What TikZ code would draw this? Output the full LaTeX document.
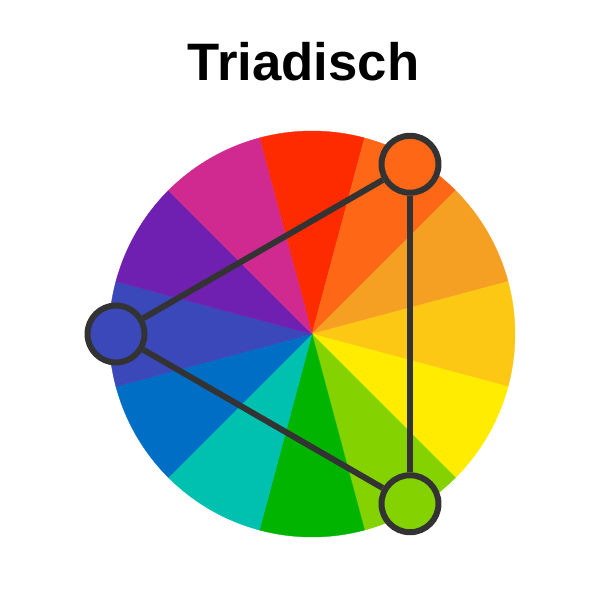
\documentclass[tikz,border=0pt]{standalone}
\usepackage{fontspec}
\setmainfont{Liberation Sans}
\usetikzlibrary{positioning}
\definecolor{hueR}{RGB}{255, 43, 0}
\definecolor{hueRO}{RGB}{253, 103, 22}
\definecolor{hueO}{RGB}{245, 160, 35}
\definecolor{hueYO}{RGB}{252, 200, 20}
\definecolor{hueY}{RGB}{255, 236, 0}
\definecolor{hueYG}{RGB}{132, 210, 0}
\definecolor{hueG}{RGB}{0, 180, 0}
\definecolor{hueT}{RGB}{0, 192, 176}
\definecolor{hueB}{RGB}{0, 110, 196}
\definecolor{hueI}{RGB}{59, 72, 186}
\definecolor{hueP}{RGB}{112, 32, 176}
\definecolor{hueM}{RGB}{208, 42, 144}
\definecolor{mydark}{RGB}{51, 51, 51}
\tikzset{
  tridot/.style = {circle, draw = mydark, line width = 0.12cm, minimum size = 1.14cm, inner sep = 0},
  triline/.style = {mydark, line width = 0.12cm}
}

\begin{document}
\begin{tikzpicture}[x = 0.02cm, y = 0.02cm]
\useasboundingbox (0,0) rectangle (600,600);
\fill[white] (0,0) rectangle (600,600);
\node[anchor = base, font = \bfseries\fontsize{30}{36}\selectfont] (title) at (303.5, 520) {Triadisch};
\begin{scope}[shift = {(312, 266)}]
\foreach \a/\c in {90/hueR, 60/hueRO, 30/hueO, 0/hueYO, -30/hueY, -60/hueYG,
  -90/hueG, -120/hueT, -150/hueB, -180/hueI, -210/hueP, -240/hueM}{
\filldraw[\c, line width = 0.2pt] (0,0) -- (\a-15:203) arc[start angle = \a-15, end angle = \a+15, radius = 203] -- cycle;
}
\node[tridot, fill = hueRO] (warm) at (60:196) {};
\node[tridot, fill = hueI] (cool) at (180:196) {};
\node[tridot, fill = hueYG] (fresh) at (-60:196) {};
\draw[triline] (warm) -- (cool);
\draw[triline] (cool) -- (fresh);
\draw[triline] (fresh) -- (warm);
\end{scope}
\end{tikzpicture}
\end{document}
